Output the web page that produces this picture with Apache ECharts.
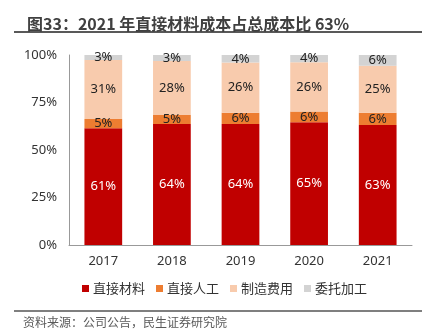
<!DOCTYPE html>
<html><head><meta charset="utf-8">
<script src="https://cdn.jsdelivr.net/npm/echarts@6/dist/echarts.min.js"></script>
<style>html,body{margin:0;padding:0;background:#fff}#c{width:426px;height:331px}</style>
</head><body><div id="c"></div>
<script>
var categories = ['2017', '2018', '2019', '2020', '2021'];
var seriesNames = ['直接材料', '直接人工', '制造费用', '委托加工'];
var material = [61.4, 63.7, 63.7, 64.6, 63.2];
var labor = [4.9, 4.7, 5.9, 5.6, 6.4];
var manufacturing = [31.1, 28.4, 26.4, 26.0, 24.8];
var outsourcing = [2.6, 3.2, 4.0, 3.8, 5.6];
var yTicks = [0, 25, 50, 75, 100];

var colors = ['#C00000', '#ED7D31', '#F8CBAD', '#D3D3D3'];
var labelColors = ['#ffffff', '#222222', '#222222', '#222222'];
var font = '"Noto Sans CJK SC", "Noto Sans", sans-serif';
var dataSets = [material, labor, manufacturing, outsourcing];

var chart = echarts.init(document.getElementById('c'));
chart.setOption({
  animation: false,
  textStyle: {fontFamily: font},
  title: {
    text: '图33：2021 年直接材料成本占总成本比 63%',
    left: 22, top: 11,
    textStyle: {fontSize: 16, fontWeight: 'bold', color: '#404040', fontFamily: font}
  },
  graphic: [
    {type: 'line', shape: {x1: 14, y1: 32, x2: 422, y2: 32}, style: {stroke: '#595959', lineWidth: 2}},
    {type: 'line', shape: {x1: 14, y1: 311, x2: 422, y2: 311}, style: {stroke: '#7f7f7f', lineWidth: 2}},
    {type: 'text', left: 23, top: 316, style: {text: '资料来源：公司公告，民生证券研究院', fill: '#595959', font: '12px ' + font}}
  ],
  legend: {
    left: 77, top: 277,
    itemWidth: 7, itemHeight: 7, itemGap: 11,
    icon: 'rect',
    textStyle: {fontSize: 13, color: '#333', padding: [0, 0, 0, -1]},
    data: seriesNames
  },
  grid: {left: 69, right: 14, top: 55, bottom: 86},
  xAxis: {
    type: 'category', data: categories,
    axisLine: {lineStyle: {color: '#999', width: 1}},
    axisTick: {show: false},
    axisLabel: {fontSize: 13, color: '#333', margin: 10, fontFamily: '"Noto Sans", sans-serif'}
  },
  yAxis: {
    type: 'value', min: 0, max: 100, interval: 25,
    axisLine: {show: true, lineStyle: {color: '#999', width: 1}},
    axisTick: {show: false},
    splitLine: {show: false},
    axisLabel: {fontSize: 13, color: '#333', margin: 12, fontFamily: '"Noto Sans", sans-serif',
      formatter: function (v) { return yTicks.indexOf(v) >= 0 ? v + '%' : ''; }}
  },
  series: dataSets.map(function (d, i) {
    return {
      name: seriesNames[i], type: 'bar', stack: 'total', data: d,
      barWidth: '55%',
      itemStyle: {color: colors[i]},
      label: {
        show: true, position: 'inside', color: labelColors[i], fontSize: 13,
        fontFamily: '"Noto Sans", sans-serif',
        formatter: function (p) { return Math.round(p.value) + '%'; }
      }
    };
  })
});
</script></body></html>
